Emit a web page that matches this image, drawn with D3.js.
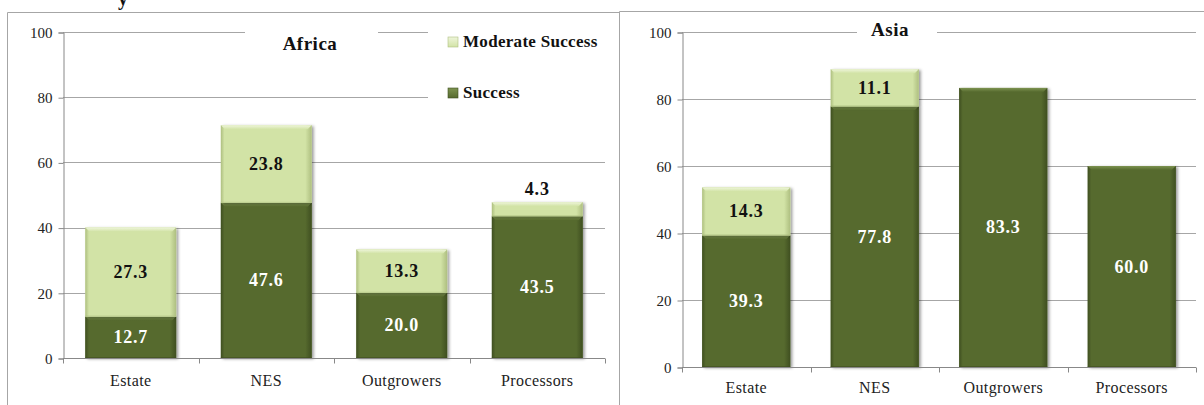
<!DOCTYPE html>
<html>
<head>
<meta charset="utf-8">
<script src="https://cdn.jsdelivr.net/npm/d3@7"></script>
<style>
  html, body { margin: 0; padding: 0; background: #fff; }
  svg { display: block; }
</style>
</head>
<body>
<svg id="chart" width="1204" height="405"></svg>
<script>
// Categories shared by both regions
const categories = ["Estate", "NES", "Outgrowers", "Processors"];
const seriesNames = ["Success", "Moderate Success"];
const yTicks = [0, 20, 40, 60, 80, 100];

// Africa: share of cases (%)
const africaSuccess = [12.7, 47.6, 20.0, 43.5];
const africaModerate = [27.3, 23.8, 13.3, 4.3];

// Asia: share of cases (%)
const asiaSuccess = [39.3, 77.8, 83.3, 60.0];
const asiaModerate = [14.3, 11.1, 0, 0];

const SERIF = '"Liberation Serif", "DejaVu Serif", serif';

const svg = d3.select("#chart");
const defs = svg.append("defs");

const colors = {
  Success: { base: "#566a2e", light: "#7d9350", dark: "#3f4f20" },
  "Moderate Success": { base: "#d2e3a6", light: "#eef5da", dark: "#aebf80" }
};

// Horizontal shading (darker edges) and bevel gradients per series
Object.entries(colors).forEach(([name, c], i) => {
  const h = defs.append("linearGradient").attr("id", "hg" + i)
    .attr("x1", 0).attr("x2", 1).attr("y1", 0).attr("y2", 0);
  h.append("stop").attr("offset", "0%").attr("stop-color", c.dark);
  h.append("stop").attr("offset", "4%").attr("stop-color", c.base);
  h.append("stop").attr("offset", "93%").attr("stop-color", c.base);
  h.append("stop").attr("offset", "100%").attr("stop-color", c.dark);
  const v = defs.append("linearGradient").attr("id", "vg" + i)
    .attr("x1", 0).attr("x2", 0).attr("y1", 0).attr("y2", 1);
  v.append("stop").attr("offset", "0%").attr("stop-color", c.light);
  v.append("stop").attr("offset", "100%").attr("stop-color", c.base);
});

const shadow = defs.append("filter").attr("id", "shadow")
  .attr("x", "-10%").attr("y", "-10%").attr("width", "130%").attr("height", "130%");
shadow.append("feDropShadow").attr("dx", 2).attr("dy", 1)
  .attr("stdDeviation", 1.5).attr("flood-color", "#000").attr("flood-opacity", 0.4);

// Fragment of the caption line above the panels
svg.append("text").attr("x", 118).attr("y", 5)
  .style("font-family", SERIF).style("font-size", "20px").style("font-weight", "bold")
  .attr("fill", "#111").text("y");

// Panel frames
const frame = svg.append("g").attr("fill", "none").attr("stroke", "#a6a6a6").attr("stroke-width", 1);
frame.append("path").attr("d", "M7.5,405 V12.5 H619.5");
frame.append("path").attr("d", "M619.5,405 V11.5 H1204");

function drawPanel(cfg) {
  const g = svg.append("g");
  const x = d3.scaleBand().domain(categories).range(cfg.xRange)
    .paddingInner(cfg.pad).paddingOuter(cfg.pad / 2);
  const y = d3.scaleLinear().domain([0, 100]).range(cfg.yRange);

  // Gridlines
  g.append("g").selectAll("line").data(yTicks.slice(1)).join("line")
    .attr("x1", cfg.xRange[0]).attr("x2", cfg.xRange[1])
    .attr("y1", d => Math.round(y(d)) + 0.5).attr("y2", d => Math.round(y(d)) + 0.5)
    .attr("stroke", "#a6a6a6").attr("stroke-width", 1);

  // Y axis
  const yAxis = g.append("g").attr("transform", `translate(${cfg.xRange[0] + 0.5},0.5)`)
    .call(d3.axisLeft(y).tickValues(yTicks).tickSize(5).tickPadding(6).tickFormat(d3.format("d")));
  yAxis.select(".domain").attr("stroke", "#888");
  yAxis.selectAll(".tick line").attr("stroke", "#888");
  yAxis.selectAll(".tick text").attr("fill", "#222")
    .style("font-family", SERIF).style("font-size", "15px");

  // Title with white backing that interrupts the top gridline
  g.append("rect").attr("x", cfg.titleBox[0]).attr("y", cfg.titleBox[1])
    .attr("width", cfg.titleBox[2]).attr("height", cfg.titleBox[3]).attr("fill", "#fff");
  g.append("text").attr("x", cfg.titleX).attr("y", cfg.titleY).attr("text-anchor", "middle")
    .style("font-family", SERIF).style("font-size", "19px").style("font-weight", "bold")
    .style("letter-spacing", "0.5px").attr("fill", "#111").text(cfg.title);

  // Stack the two series
  const rows = categories.map((c, i) => ({
    cat: c, Success: cfg.success[i], "Moderate Success": cfg.moderate[i]
  }));
  const stacked = d3.stack().keys(seriesNames)(rows);

  const bars = g.append("g");
  stacked.forEach((layer, si) => {
    const key = layer.key;
    layer.forEach(seg => {
      const v = seg[1] - seg[0];
      if (v <= 0) return;
      const bx = x(seg.data.cat), bw = x.bandwidth();
      const y0 = y(seg[0]), y1 = y(seg[1]);
      const h = y0 - y1;
      const sg = bars.append("g");
      sg.append("rect").attr("x", bx).attr("y", y1).attr("width", bw).attr("height", h)
        .attr("fill", colors[key].base).attr("filter", "url(#shadow)");
      sg.append("rect").attr("x", bx).attr("y", y1).attr("width", bw).attr("height", h)
        .attr("fill", `url(#hg${si})`);
      const b = Math.min(4, h / 2);
      sg.append("path")
        .attr("d", `M${bx},${y1} H${bx + bw} L${bx + bw - b},${y1 + b} H${bx + b} Z`)
        .attr("fill", `url(#vg${si})`);
      sg.append("line").attr("x1", bx).attr("x2", bx + bw).attr("y1", y0 - 0.5).attr("y2", y0 - 0.5)
        .attr("stroke", colors[key].dark).attr("stroke-opacity", 0.6);
    });
  });

  // X axis
  const xAxisY = Math.round(cfg.yRange[0]) + 0.5;
  const xa = g.append("g");
  xa.append("line").attr("x1", cfg.xRange[0]).attr("x2", cfg.xRange[1])
    .attr("y1", xAxisY).attr("y2", xAxisY).attr("stroke", "#888");
  const bounds = d3.range(categories.length + 1).map(i => cfg.xRange[0] + i * x.step());
  xa.selectAll("line.tk").data(bounds).join("line").attr("class", "tk")
    .attr("x1", d => Math.round(d) + 0.5).attr("x2", d => Math.round(d) + 0.5)
    .attr("y1", xAxisY).attr("y2", xAxisY + 5).attr("stroke", "#888");
  xa.selectAll("text").data(categories).join("text")
    .attr("x", d => x(d) + x.bandwidth() / 2).attr("y", cfg.xLabelY)
    .attr("text-anchor", "middle")
    .style("font-family", SERIF).style("font-size", "16px").style("letter-spacing", "0.4px")
    .attr("fill", "#222").text(d => d);

  // Value labels
  const lab = g.append("g").attr("text-anchor", "middle");
  stacked.forEach(layer => {
    const key = layer.key;
    layer.forEach(seg => {
      const v = seg[1] - seg[0];
      if (v <= 0) return;
      const cx = x(seg.data.cat) + x.bandwidth() / 2;
      const h = y(seg[0]) - y(seg[1]);
      let ty, fill;
      if (h < 22) {
        ty = y(seg[1]) - 7; fill = "#111";
      } else {
        ty = (y(seg[0]) + y(seg[1])) / 2 + 6;
        fill = key === "Success" ? "#fff" : "#111";
      }
      lab.append("text").attr("x", cx).attr("y", ty).attr("fill", fill)
        .style("font-family", SERIF).style("font-size", "18px").style("font-weight", "bold")
        .style("letter-spacing", "0.8px").text(v.toFixed(1));
    });
  });
  return g;
}

const africa = drawPanel({
  title: "Africa", titleX: 310, titleY: 50, titleBox: [245, 18, 133, 40],
  xRange: [63, 605], yRange: [358, 32], pad: 0.33,
  success: africaSuccess, moderate: africaModerate, xLabelY: 386
});

drawPanel({
  title: "Asia", titleX: 890, titleY: 36, titleBox: [857, 16, 80, 30],
  xRange: [682, 1196], yRange: [367, 32], pad: 0.315,
  success: asiaSuccess, moderate: asiaModerate, xLabelY: 393
});

// Legend for the Africa panel, on a white box over the top gridlines
const legend = africa.append("g");
legend.append("rect").attr("x", 428).attr("y", 16).attr("width", 178).attr("height", 96).attr("fill", "#fff");
const legendItems = ["Moderate Success", "Success"];
legendItems.forEach((name, i) => {
  const si = seriesNames.indexOf(name);
  const ly = 37 + i * 51;
  legend.append("rect").attr("x", 448).attr("y", ly).attr("width", 10).attr("height", 10)
    .attr("fill", `url(#vg${si})`).attr("stroke", colors[name].dark).attr("stroke-width", 0.6);
  legend.append("text").attr("x", 463).attr("y", ly + 10)
    .style("font-family", SERIF).style("font-size", "17px").style("font-weight", "bold")
    .style("letter-spacing", "0.3px").attr("fill", "#111").text(name);
});
</script>
</body>
</html>
